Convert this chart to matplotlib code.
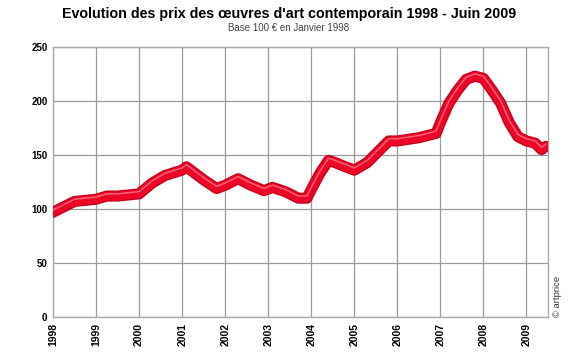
import matplotlib
matplotlib.use("Agg")
import matplotlib.pyplot as plt
import matplotlib.transforms as mtransforms

years = [1998.0, 1998.25, 1998.5, 1999.0, 1999.25, 1999.5, 2000.0, 2000.3, 2000.6,
         2001.0, 2001.1, 2001.5, 2001.8, 2002.0, 2002.3, 2002.6, 2002.9, 2003.1,
         2003.4, 2003.7, 2003.9, 2004.0, 2004.2, 2004.4, 2004.55, 2004.8, 2005.0,
         2005.3, 2005.6, 2005.8, 2006.0, 2006.5, 2006.9, 2007.0, 2007.2, 2007.4,
         2007.6, 2007.8, 2008.0, 2008.2, 2008.4, 2008.6, 2008.8, 2009.0, 2009.2,
         2009.35, 2009.45]
index = [97, 102, 107, 109, 112, 112, 114, 124, 131,
         136, 139, 127, 119, 122, 128, 122, 117, 120,
         116, 110, 110, 118, 133, 145, 143, 139, 136,
         143, 155, 163, 163, 166, 170, 180, 198, 210,
         220, 223, 221, 210, 198, 180, 167, 163, 161,
         155, 158]
x_ticks = list(range(1998, 2010))
y_ticks = [0, 50, 100, 150, 200, 250]

title = "Evolution des prix des œuvres d'art contemporain 1998 - Juin 2009"
subtitle = "Base 100 € en Janvier 1998"
credit = "© artprice"

font = ["Liberation Sans", "DejaVu Sans"]

fig = plt.figure(figsize=(5.78, 3.55), dpi=100)
ax = fig.add_axes([53/578, 38/355, (548-53)/578, 270/355])

ax.set_xlim(1998, 2009.5)
ax.set_ylim(0, 250)
ax.set_xticks(x_ticks)
ax.set_yticks(y_ticks)
ax.grid(True, color="#9a9a9a", lw=0.9)
ax.set_axisbelow(True)
for s in ax.spines.values():
    s.set_color("#aaaaaa")
    s.set_linewidth(1.0)
ax.tick_params(length=0, pad=4)
ax.set_xticklabels([str(y) for y in x_ticks], rotation=90, fontsize=7.5,
                   fontweight="bold", family=font)
ax.set_yticklabels([str(y) for y in y_ticks], fontsize=7,
                   fontweight="bold", family=font)

ax.plot(years, index, color="#c4001a", lw=8.0, solid_joinstyle="round",
        solid_capstyle="round", zorder=3)
ax.plot(years, index, color="#ec0526", lw=6.2, solid_joinstyle="round",
        solid_capstyle="round", zorder=4)
off = mtransforms.offset_copy(ax.transData, fig=fig, x=0, y=1.6, units="points")
ax.plot(years, index, color="#ff7a8a", lw=1.1, alpha=0.8, transform=off,
        solid_joinstyle="round", zorder=5)

fig.text(0.5, 1 - 14/355, title, ha="center", va="center", fontsize=10.3,
         fontweight="bold", family=font)
fig.text(0.5, 1 - 28/355, subtitle, ha="center", va="center", fontsize=7,
         color="#444444", family=font)
fig.text(557/578, 38/355, credit, ha="center", va="bottom", rotation=90,
         fontsize=6.8, color="#333333", family=font)

fig.savefig("out.png", dpi=100)
